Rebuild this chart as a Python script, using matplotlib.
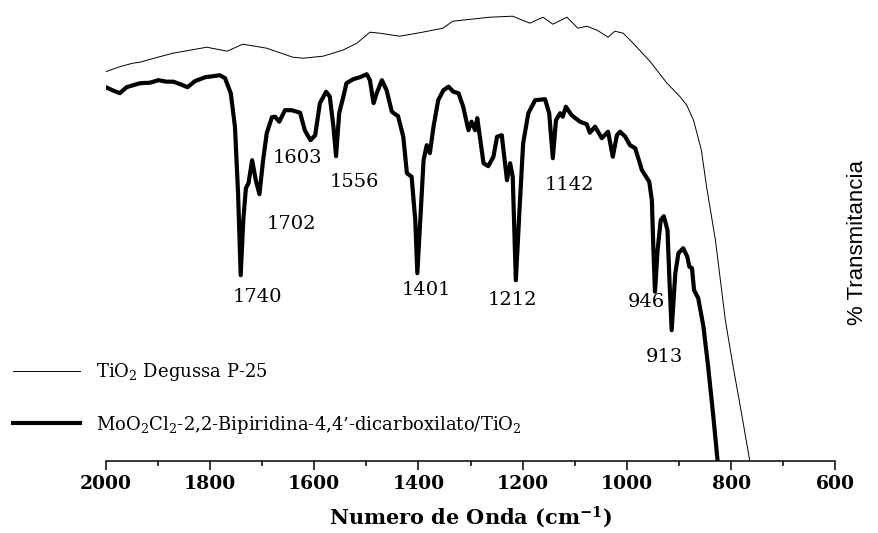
import matplotlib

matplotlib.use("Agg")
import matplotlib.pyplot as plt

# TiO2 Degussa P-25 (thin trace)
tio2_wn = [2000, 1973, 1948, 1934, 1921, 1871, 1806, 1767, 1737, 1691, 1641, 1621, 1583,
           1545, 1518, 1493, 1474, 1436, 1392, 1353, 1334, 1263, 1219, 1186, 1161, 1142,
           1115, 1094, 1077, 1057, 1036, 1023, 1007, 988, 955, 923, 898, 885, 872, 857,
           847, 830, 811, 796, 780, 765, 760]
tio2_t = [77.8, 78.8, 79.5, 79.7, 80.1, 81.5, 82.7, 81.9, 83.3, 82.5, 80.7, 80.5, 80.9,
          82.1, 83.5, 85.7, 85.5, 84.9, 85.7, 86.5, 87.9, 88.7, 88.9, 87.5, 88.7, 87.3,
          88.7, 86.5, 86.9, 86.1, 84.7, 85.9, 85.5, 83.5, 79.8, 75.5, 72.8, 71.1, 68.1, 62.1,
          54.8, 44.1, 28.1, 18.8, 9.5, 0.5, -4]

# MoO2Cl2-bipy-dicarboxylate / TiO2 (thick trace)
mo_wn = [2000, 1985, 1973, 1960, 1934, 1915, 1899, 1883, 1870, 1857, 1843, 1829, 1809,
         1794, 1781, 1771, 1760, 1752, 1746, 1741, 1736, 1731, 1726, 1719, 1712, 1705,
         1698, 1691, 1681, 1675, 1667, 1656, 1643, 1627, 1618, 1607, 1598, 1589, 1577,
         1570, 1563, 1558, 1552, 1544, 1538, 1525, 1512, 1499, 1493, 1486, 1480, 1470,
         1461, 1451, 1439, 1429, 1422, 1413, 1406, 1402, 1397, 1390, 1384, 1378, 1371,
         1362, 1352, 1342, 1333, 1323, 1314, 1304, 1298, 1291, 1287, 1282, 1275, 1266,
         1256, 1249, 1240, 1236, 1230, 1224, 1219, 1213, 1206, 1199, 1189, 1176, 1157,
         1149, 1142, 1136, 1128, 1123, 1117, 1106, 1090, 1077, 1071, 1061, 1048, 1036,
         1027, 1019, 1013, 1003, 994, 984, 971, 957, 952, 949, 946, 941, 935, 929, 922,
         918, 914, 907, 901, 892, 884, 880, 875, 871, 863, 853, 844, 834, 826, 822]
mo_t = [74.7, 74.0, 73.5, 74.7, 75.5, 75.6, 76.1, 75.8, 75.8, 75.3, 74.7, 75.9, 76.7,
        76.9, 77.1, 76.5, 73.5, 66.8, 53.5, 37.1, 48.1, 54.5, 55.5, 60.1, 56.1, 53.3,
        60.1, 65.5, 68.7, 68.8, 67.8, 70.1, 70.1, 69.6, 66.1, 64.1, 65.1, 71.5, 73.8,
        72.8, 66.8, 60.9, 69.5, 72.8, 75.5, 76.3, 76.7, 77.3, 76.1, 71.5, 73.5, 76.1,
        74.1, 69.8, 68.9, 64.8, 57.5, 56.8, 48.1, 37.5, 46.8, 60.1, 63.1, 61.5, 66.8,
        72.1, 74.1, 74.8, 73.8, 73.5, 70.8, 66.1, 67.8, 66.1, 68.5, 64.8, 59.5, 58.9,
        60.8, 64.8, 65.1, 61.5, 56.1, 59.5, 56.8, 36.1, 50.1, 63.5, 69.5, 72.1, 72.3,
        69.5, 60.5, 68.1, 69.5, 68.8, 70.8, 69.1, 67.8, 67.3, 65.6, 66.8, 64.5, 65.8,
        60.8, 65.1, 65.8, 64.8, 63.1, 62.5, 58.1, 55.8, 52.1, 42.1, 33.8, 42.1, 48.1, 48.9, 46.1,
        35.5, 26.1, 37.5, 41.5, 42.5, 40.8, 38.8, 38.5, 34.1, 32.5, 26.8, 18.8, 8.8, 0.1, -4]

# peak labels: text, x, y
peak_text = ["1740", "1702", "1603", "1556", "1401", "1212", "1142", "946", "913"]
peak_x = [1708, 1643, 1633, 1522, 1384, 1220, 1110, 963, 928]
peak_y = [32.7, 47.3, 60.5, 55.8, 34.1, 32.1, 55.1, 31.8, 20.8]

plt.rcParams["mathtext.fontset"] = "dejavuserif"

fig = plt.figure(figsize=(8.79, 5.33), dpi=100)
ax = fig.add_axes([105.7 / 879, 72.3 / 533, 729.6 / 879, 460 / 533])

l1, = ax.plot(tio2_wn, tio2_t, color="black", lw=0.7)
l2, = ax.plot(mo_wn, mo_t, color="black", lw=3.0)

for t, x, y in zip(peak_text, peak_x, peak_y):
    ax.text(x, y, t, ha="center", va="center", fontsize=14, family="DejaVu Serif")

ax.set_xlim(2000, 600)
ax.set_ylim(0, 92)
ax.set_xticks(range(2000, 599, -200))
ax.set_xticks(range(1900, 600, -200), minor=True)
ax.set_yticks([])
for s in ["left", "top", "right"]:
    ax.spines[s].set_visible(False)
ax.spines["bottom"].set_linewidth(1.1)
ax.tick_params(axis="x", which="major", length=6.5, width=1.1, pad=4,
               labelsize=13.5)
ax.tick_params(axis="x", which="minor", length=3.6, width=1.1)
for lab in ax.get_xticklabels():
    lab.set_fontfamily("DejaVu Serif")
    lab.set_fontweight("bold")

ax.set_xlabel(r"Numero de Onda (cm$^{\mathbf{-1}}$)", fontsize=15,
              family="DejaVu Serif", fontweight="bold", labelpad=8)
fig.text(858 / 879, 0.545, "% Transmitancia", rotation=90, ha="center",
         va="center", fontsize=16, family="Liberation Sans")

ax.legend([l1, l2],
          [r"TiO$_2$ Degussa P-25",
           r"MoO$_2$Cl$_2$-2,2-Bipiridina-4,4’-dicarboxilato/TiO$_2$"],
          loc="upper left", bbox_to_anchor=(13 / 879, (533 - 361) / 533),
          bbox_transform=fig.transFigure, frameon=False, borderpad=0,
          borderaxespad=0, handlelength=3.7, handletextpad=0.9,
          labelspacing=1.7, prop={"family": "DejaVu Serif", "size": 13})

fig.savefig("out.png", dpi=100)
